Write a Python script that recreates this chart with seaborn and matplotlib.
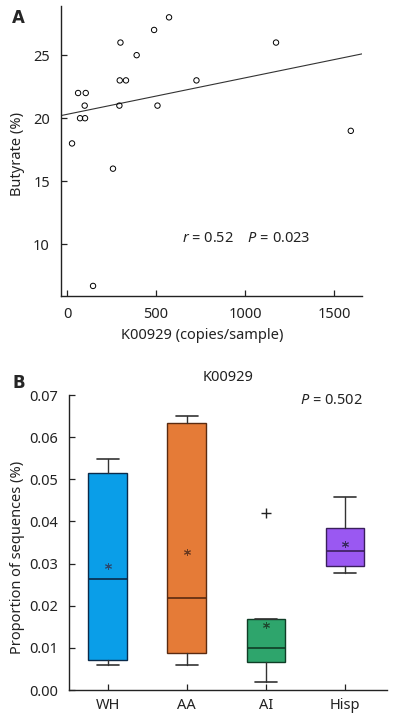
import matplotlib
matplotlib.use('Agg')
import matplotlib.pyplot as plt
import seaborn as sns

# Panel A: K00929 copies vs butyrate
copies = [28, 62, 73, 101, 99, 105, 146, 258, 294, 296, 300, 331, 391, 489, 508, 573, 727, 1174, 1594]
butyrate = [18, 22, 20, 20, 21, 22, 6.7, 16, 21, 23, 26, 23, 25, 27, 21, 28, 23, 26, 19]

# Panel B: box summaries per group
groups = ['WH', 'AA', 'AI', 'Hisp']
whis_lo = [0.0059, 0.0059, 0.0020, 0.0278]
q1 = [0.0071, 0.0089, 0.0066, 0.0295]
median = [0.0263, 0.0219, 0.0100, 0.0329]
q3 = [0.0514, 0.0633, 0.0168, 0.0384]
whis_hi = [0.0549, 0.0649, 0.0168, 0.0459]
means = [0.0295, 0.0327, 0.0155, 0.0347]
outliers = [[], [], [0.042], []]

face_colors = ['#0a9ee8', '#e57b37', '#2ea56c', '#9a58f2']
edge_colors = ['#0b2a4a', '#5a2a10', '#0f3d26', '#3a1f5c']
mean_colors = ['#2a4a70', '#6a3a20', '#1f4a30', '#3a2a60']

sns.set_style('ticks')
plt.rcParams['font.family'] = ['Noto Sans', 'DejaVu Sans']
plt.rcParams['mathtext.fontset'] = 'custom'
plt.rcParams['mathtext.rm'] = 'Noto Sans'
plt.rcParams['mathtext.it'] = 'Noto Sans:italic'

fig = plt.figure(figsize=(4, 7.22), dpi=100)
ax1 = fig.add_axes([0.1525, 0.590, 0.7525, 0.4017])
ax2 = fig.add_axes([0.1725, 0.0443, 0.795, 0.4086])

txt = '#222222'
fs = 10.5

# ---- A: scatter with regression line
ax1.set_xlim(-34, 1657)
ax1.set_ylim(5.9, 28.9)
sns.regplot(x=copies, y=butyrate, ax=ax1, ci=None, truncate=False,
            scatter_kws=dict(facecolors='none', edgecolors='black', s=15,
                             linewidths=0.7, alpha=1, zorder=3),
            line_kws=dict(color='#333333', lw=0.8))
ax1.set_xlim(-34, 1657)
ax1.set_ylim(5.9, 28.9)
ax1.set_xticks([0, 500, 1000, 1500])
ax1.set_yticks([10, 15, 20, 25])
ax1.set_xlabel('K00929 (copies/sample)', fontsize=fs, color=txt)
ax1.set_ylabel('Butyrate (%)', fontsize=fs, color=txt)
ax1.xaxis.set_label_coords(0.47, -0.11)
ax1.yaxis.set_label_coords(-0.12, 0.49)
ax1.text(644, 10.5, r'$\mathit{r}$ = 0.52    $\mathit{P}$ = 0.023',
         fontsize=fs, color=txt, ha='left', va='center')

# ---- B: box plot from summary stats
stats = []
for i, g in enumerate(groups):
    stats.append(dict(label=g, whislo=whis_lo[i], q1=q1[i], med=median[i],
                      q3=q3[i], whishi=whis_hi[i], mean=means[i],
                      fliers=outliers[i]))
bp = ax2.bxp(stats, positions=range(len(groups)), widths=0.49,
             capwidths=0.28, patch_artist=True, showmeans=True,
             meanprops=dict(marker=(6, 2, 0), markersize=5,
                            markeredgewidth=0.7, linestyle='none'),
             flierprops=dict(marker='+', markersize=7,
                             markeredgecolor='#222222', markeredgewidth=1),
             whiskerprops=dict(color='#333333', lw=1),
             capprops=dict(color='#333333', lw=1.2))
for i, box in enumerate(bp['boxes']):
    box.set_facecolor(face_colors[i])
    box.set_edgecolor(edge_colors[i])
    box.set_linewidth(1)
    bp['medians'][i].set_color(edge_colors[i])
    bp['medians'][i].set_linewidth(1.2)
    bp['means'][i].set_markeredgecolor(mean_colors[i])
    bp['means'][i].set_markerfacecolor(mean_colors[i])
ax2.set_xlim(-0.49, 3.53)
ax2.set_ylim(0, 0.07)
ax2.set_yticks([0, 0.01, 0.02, 0.03, 0.04, 0.05, 0.06, 0.07])
ax2.set_yticklabels(['0.00', '0.01', '0.02', '0.03', '0.04', '0.05', '0.06', '0.07'])
ax2.set_xticks(range(len(groups)))
ax2.set_xticklabels(groups)
ax2.set_title('K00929', fontsize=fs, color=txt, pad=10)
ax2.set_ylabel('Proportion of sequences (%)', fontsize=fs, color=txt)
ax2.yaxis.set_label_coords(-0.138, 0.45)
ax2.text(3.22, 0.0687, r'$\mathit{P}$ = 0.502', fontsize=fs, color=txt,
         ha='right', va='center')

for ax in (ax1, ax2):
    sns.despine(ax=ax)
    ax.spines['left'].set_color('#222222')
    ax.spines['bottom'].set_color('#222222')
    ax.spines['left'].set_linewidth(1)
    ax.spines['bottom'].set_linewidth(1)
    ax.tick_params(direction='in', length=4, width=0.9, labelsize=fs,
                   colors='#222222', labelcolor=txt)
ax1.tick_params(axis='x', pad=8)
ax1.tick_params(axis='y', pad=8)
ax2.tick_params(axis='x', pad=6)
ax2.tick_params(axis='y', pad=8)

fig.text(0.03, 1 - 18 / 722, 'A', fontsize=12, fontweight='bold',
         family='DejaVu Sans', va='center')
fig.text(0.03, 1 - 383 / 722, 'B', fontsize=12, fontweight='bold',
         family='DejaVu Sans', va='center')

fig.savefig('out.png', dpi=100)
